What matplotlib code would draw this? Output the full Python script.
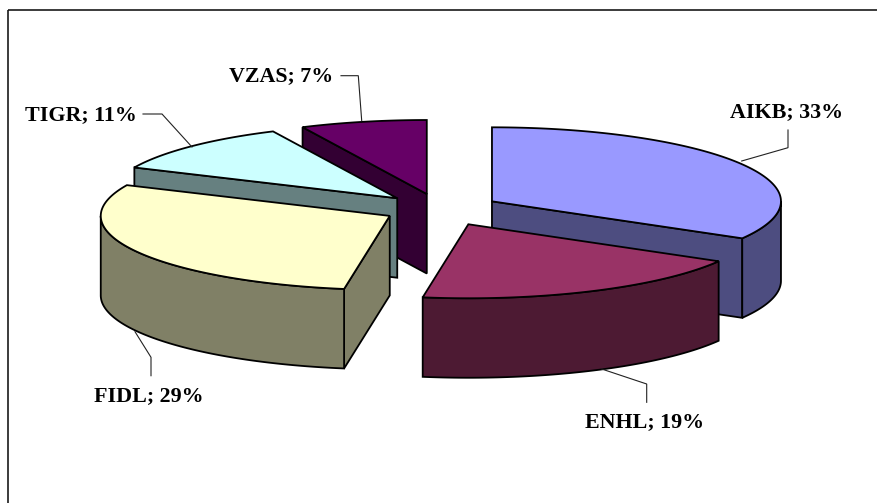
import numpy as np
import matplotlib
matplotlib.use("Agg")
import matplotlib.pyplot as plt
from matplotlib.patches import Polygon, Rectangle

# Portfolio shares, in percent
categories = ["AIKB", "ENHL", "FIDL", "TIGR", "VZAS"]
shares = [33, 19, 29, 11, 7]

# Layout of the exploded pie, in pixels of an 877x503 canvas
CENTER_X, CENTER_Y = 440.0, 209.0
RADIUS_X, RADIUS_Y = 289.0, 74.0
DEPTH = 79.5
explode = [60.0, 66.0, 57.0, 60.0, 60.0]

top_colors = ["#9999FF", "#993366", "#FFFFCC", "#CCFFFF", "#660066"]
side_colors = ["#4D4D80", "#4D1A33", "#808066", "#668080", "#330033"]

# Back slices are painted first so the nearer ones overlap them
paint_order = [4, 3, 0, 2, 1]

label_centers = [(786.5, 112), (645, 422.5), (149, 396.5), (81, 115), (281, 76)]
leader_paths = [
    [(788, 130), (788, 147.7), (741.7, 161)],
    [(646.7, 402.3), (646.7, 384), (601.7, 369)],
    [(151, 375.7), (151, 357.3), (135, 331.7)],
    [(143, 114), (162, 114), (192, 147)],
    [(341, 75.7), (358.3, 75.7), (361.7, 120.7)],
]

EDGE = {"edgecolor": "black", "linewidth": 1.3, "joinstyle": "miter"}


def rim(apex, start, stop):
    """Points of the elliptical rim between two clockwise-from-north angles."""
    theta = np.radians(np.linspace(start, stop, max(int(abs(stop - start)) * 2, 2)))
    return np.column_stack(
        (apex[0] + RADIUS_X * np.sin(theta), apex[1] - RADIUS_Y * np.cos(theta))
    )


def extrude(points):
    """Close a top outline with the same outline shifted down by the pie depth."""
    lower = np.asarray(points) + [0, DEPTH]
    return np.vstack((points, lower[::-1]))


fig = plt.figure(figsize=(8.77, 5.03), dpi=100, facecolor="white")
ax = fig.add_axes([0, 0, 1, 1])
ax.set_xlim(0, 877)
ax.set_ylim(503, 0)
ax.axis("off")

# Chart border; it runs past the canvas on the right and at the bottom
ax.add_patch(Rectangle((7.7, 10), 900, 520, fill=False, edgecolor="#1a1a1a", linewidth=1.2))

bounds = np.concatenate(([0.0], np.cumsum(shares))) / sum(shares) * 360.0

for i in paint_order:
    start, stop = bounds[i], bounds[i + 1]
    middle = np.radians((start + stop) / 2)
    apex = np.array(
        [
            CENTER_X + explode[i] * np.sin(middle),
            CENTER_Y - explode[i] * RADIUS_Y / RADIUS_X * np.cos(middle),
        ]
    )

    # Cut faces: only the ones turned towards the viewer
    if np.sin(np.radians(start)) < -1e-9:
        edge = rim(apex, start, start)[:1]
        ax.add_patch(Polygon(extrude(np.vstack((apex, edge))), facecolor=side_colors[i], **EDGE))
    if np.sin(np.radians(stop)) > 1e-9:
        edge = rim(apex, stop, stop)[:1]
        ax.add_patch(Polygon(extrude(np.vstack((apex, edge))), facecolor=side_colors[i], **EDGE))

    # Outer wall: the part of the rim on the near half of the ellipse
    near_start, near_stop = max(start, 90.0), min(stop, 270.0)
    if near_stop > near_start:
        ax.add_patch(
            Polygon(extrude(rim(apex, near_start, near_stop)), facecolor=side_colors[i], **EDGE)
        )

    # Top surface
    ax.add_patch(
        Polygon(np.vstack((apex, rim(apex, start, stop))), facecolor=top_colors[i], **EDGE)
    )

for name, share, center, path in zip(categories, shares, label_centers, leader_paths):
    xs, ys = zip(*path)
    ax.plot(xs, ys, color="#222222", linewidth=0.8, solid_joinstyle="miter")
    ax.text(
        center[0],
        center[1],
        f"{name}; {share}%",
        ha="center",
        va="center",
        family="Liberation Serif",
        fontweight="bold",
        fontsize=15.8,
        color="black",
    )

fig.savefig("out.png", dpi=100, facecolor="white")
